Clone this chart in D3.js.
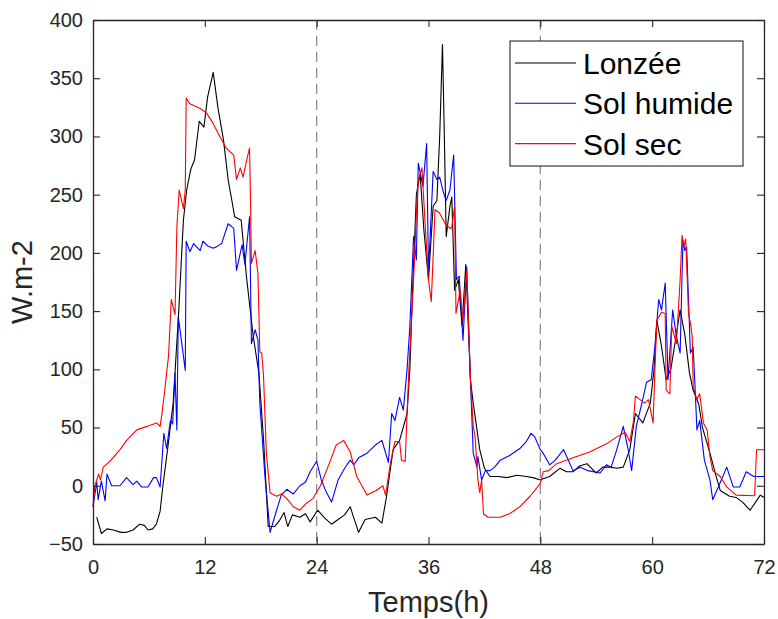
<!DOCTYPE html>
<html>
<head>
<meta charset="utf-8">
<script src="https://cdn.jsdelivr.net/npm/d3@7"></script>
<style>
    body { margin: 0; background: #fff; }
    text { font-family: "Liberation Sans", Arial, sans-serif; }
</style>
</head>
<body>
<div id="chart"></div>
<script>
// series values: [hour, W.m-2]
const lonzee = [[0.4,-27],[0.9,-41],[1.5,-37],[2.2,-38],[3.0,-40],[3.6,-40],[4.3,-38],[5.0,-33],[5.5,-34],[5.9,-38],[6.4,-37],[6.8,-33],[7.2,-22],[7.5,0],[8.0,31],[8.6,71],[9.2,150],[9.7,228],[10.05,254],[10.5,272],[10.9,280],[11.4,313],[11.9,308],[12.3,334],[12.9,355],[13.4,325],[14.0,297],[14.5,263],[14.9,245],[15.2,231],[15.9,228],[16.5,177],[17.2,128],[17.8,97],[18.3,40],[18.8,-35],[19.5,-35],[20.0,-30],[20.5,-23],[20.9,-35],[21.4,-25],[22.2,-27],[22.8,-24],[23.3,-31],[24.1,-21],[24.9,-28],[25.6,-33],[26.3,-29],[27.0,-25],[27.6,-18],[28.0,-28],[28.5,-40],[29.2,-29],[30.3,-27],[31.0,-32],[31.5,-9],[32.2,31],[32.9,39],[33.7,62],[34.0,100],[34.3,170],[34.7,250],[35.1,268],[35.5,220],[36.0,177],[36.5,240],[36.9,245],[37.2,300],[37.5,379],[37.7,300],[37.9,214],[38.3,240],[38.5,248],[38.8,168],[39.2,177],[39.6,137],[40.0,190],[40.5,91],[40.8,71],[41.5,31],[42.0,15],[42.6,8],[43.5,8],[44.4,7],[45.5,9],[46.5,8],[47.2,7],[48.0,5],[48.3,6],[49.0,8],[50.1,15],[50.8,12],[51.5,12],[52.2,17],[53.0,19],[53.6,14],[54.0,11],[54.7,16],[55.5,16],[56.2,15],[56.9,16],[57.6,31],[58.2,62],[58.6,58],[59.0,54],[59.8,71],[60.2,100],[60.5,142],[61.0,120],[61.5,91],[62.0,100],[62.5,125],[63.0,151],[63.5,130],[64.0,97],[64.4,82],[65.0,70],[65.4,50],[66.2,28],[66.8,10],[67.3,-4],[68.3,-9],[69.0,-10],[69.7,-14],[70.5,-21],[71.1,-14],[71.6,-8],[72.0,-10]];

const solHumide = [[0,-18],[0.4,3],[0.55,-12],[0.9,4],[1.3,-13],[1.5,10],[2.0,0],[2.9,0],[3.6,7],[4.3,1],[4.7,4],[5.2,-1],[5.9,-1],[6.5,7],[6.8,7],[7.2,-1],[7.6,45],[7.9,32],[8.3,56],[8.55,53],[8.8,97],[9.0,48],[9.15,145],[9.4,130],[9.9,99],[10.0,210],[10.4,201],[10.8,208],[11.5,202],[11.8,210],[12.3,206],[12.9,204],[13.4,206],[13.8,208],[14.5,225],[15.1,221],[15.4,185],[16.0,207],[16.3,190],[16.8,231],[17.0,122],[17.4,134],[17.7,125],[17.9,71],[18.45,8],[19.0,-40],[19.7,-21],[20.2,-8],[20.8,-3],[21.5,-7],[22.2,0],[22.8,3],[23.3,12],[24.0,21],[24.5,5],[25.0,-5],[25.6,-14],[26.3,5],[27.0,15],[27.6,22],[28.0,18],[28.5,24],[29.4,28],[30.3,35],[31.0,39],[31.7,20],[32.05,62],[32.4,56],[32.9,76],[33.3,65],[33.7,100],[34.0,137],[34.4,214],[34.7,194],[34.9,277],[35.4,257],[35.8,294],[36.0,183],[36.5,270],[36.9,263],[37.2,265],[37.6,252],[37.9,245],[38.3,254],[38.7,284],[39.0,177],[39.3,180],[39.7,125],[40.1,188],[40.5,91],[40.8,28],[41.2,16],[41.3,25],[41.7,5],[42.1,13],[42.6,13],[43.1,16],[43.7,22],[44.7,26],[45.8,32],[46.5,38],[47.0,45],[47.4,42],[48.0,31],[48.3,28],[49.0,18],[49.6,22],[50.5,31],[51.5,13],[52.3,16],[53.1,13],[54.4,11],[55.1,18],[55.6,16],[56.2,31],[56.9,51],[57.4,32],[57.8,13],[58.3,51],[58.9,71],[59.4,89],[59.9,91],[60.3,120],[60.7,160],[61.0,151],[61.4,174],[61.7,91],[62.2,151],[62.6,128],[63.0,114],[63.3,211],[63.5,202],[63.7,205],[64.1,114],[64.4,119],[64.6,85],[64.8,48],[65.1,56],[65.6,22],[66.2,5],[66.5,-12],[67.1,-1],[68.0,16],[68.7,-1],[69.4,-1],[70.1,12],[70.9,8],[72.0,8]];

const solSec = [[0,-18],[0.2,0],[0.6,10],[0.8,5],[1.1,16],[1.8,21],[2.9,31],[3.6,39],[4.7,48],[5.8,51],[6.8,54],[7.2,51],[7.4,62],[7.7,82],[7.9,97],[8.1,111],[8.4,160],[8.8,147],[9.0,222],[9.25,254],[9.7,238],[9.9,254],[10.0,333],[10.4,328],[11.5,324],[12.2,320],[12.9,311],[13.6,300],[14.3,290],[15.1,284],[15.4,263],[15.8,273],[16.1,265],[16.5,280],[16.8,290],[16.9,245],[17.0,191],[17.4,202],[17.7,182],[17.9,115],[18.1,114],[18.3,94],[18.6,28],[19.0,-6],[19.7,-9],[20.2,-7],[20.8,-11],[21.5,-18],[22.2,-21],[22.9,-15],[23.6,-11],[24.4,0],[25.2,16],[26.1,35],[26.9,39],[27.6,29],[28.3,8],[29.4,-8],[30.4,-4],[31.1,0],[31.4,-8],[31.9,19],[32.4,38],[32.9,38],[33.1,22],[33.5,21],[33.7,62],[33.9,100],[34.4,177],[34.7,234],[34.9,262],[35.3,273],[35.6,230],[36.0,177],[36.3,158],[36.7,237],[37.2,234],[37.8,225],[38.3,221],[38.5,222],[38.8,240],[38.95,148],[39.4,168],[39.7,142],[40.1,185],[40.5,91],[40.8,51],[41.0,42],[41.3,5],[41.5,-6],[41.7,5],[41.9,-24],[42.4,-27],[43.7,-27],[44.7,-24],[45.8,-18],[46.9,-9],[48.0,2],[48.3,12],[48.9,13],[49.75,19],[51.5,24],[53.3,29],[55.1,36],[56.2,42],[57.1,46],[57.6,38],[58.0,56],[58.2,77],[58.7,74],[59.2,71],[59.6,74],[60.1,54],[60.3,100],[60.5,142],[61.0,149],[61.4,148],[61.5,82],[61.9,79],[62.1,137],[62.6,122],[63.0,177],[63.2,215],[63.4,205],[63.6,212],[63.9,148],[64.1,140],[64.3,128],[64.4,85],[64.8,74],[65.1,79],[65.5,54],[65.9,48],[66.2,25],[66.5,13],[67.3,8],[68.0,-1],[69.0,-8],[71.0,-8.5],[71.2,31],[72.0,31]];

const seriesNames = ["Lonzée", "Sol humide", "Sol sec"];
const seriesColors = ["#000000", "#0000ff", "#ff0000"];
const xTicks = [0, 12, 24, 36, 48, 60, 72];
const yTicks = [-50, 0, 50, 100, 150, 200, 250, 300, 350, 400];
const dayMarks = [24, 48];

const margin = {top: 20, right: 14, bottom: 75, left: 93};
const width = 778 - margin.left - margin.right;
const height = 619 - margin.top - margin.bottom;
const axisColor = "#262626";

const svg = d3.select("#chart").append("svg")
    .attr("width", 778)
    .attr("height", 619)
    .append("g")
    .attr("transform", `translate(${margin.left},${margin.top})`);

const x = d3.scaleLinear().domain([0, 72]).range([0, width]);
const y = d3.scaleLinear().domain([-50, 400]).range([height, 0]);

// dashed day separators
svg.selectAll(".day")
    .data(dayMarks)
    .enter().append("line")
    .attr("class", "day")
    .attr("x1", d => x(d)).attr("x2", d => x(d))
    .attr("y1", 0).attr("y2", height)
    .attr("stroke", "#8c8c8c")
    .attr("stroke-width", 1.3)
    .attr("stroke-dasharray", "10,6");

// series
const line = d3.line().x(d => x(d[0])).y(d => y(d[1]));
[lonzee, solHumide, solSec].forEach((s, i) => {
    svg.append("path")
        .datum(s)
        .attr("fill", "none")
        .attr("stroke", seriesColors[i])
        .attr("stroke-width", 1.1)
        .attr("stroke-linejoin", "round")
        .attr("d", line);
});

// axes (box with inward ticks)
function styleAxis(g) {
    g.attr("font-family", null).attr("font-size", null);
    g.select(".domain").attr("stroke", axisColor).attr("stroke-width", 1.3);
    g.selectAll(".tick line").attr("stroke", axisColor).attr("stroke-width", 1.1);
    g.selectAll(".tick text").attr("fill", axisColor).style("font-size", "20px");
}

svg.append("g")
    .attr("transform", `translate(0,${height})`)
    .call(d3.axisBottom(x).tickValues(xTicks).tickSizeInner(-7).tickSizeOuter(0).tickPadding(16))
    .call(styleAxis);

svg.append("g")
    .call(d3.axisTop(x).tickValues(xTicks).tickSizeInner(-7).tickSizeOuter(0).tickFormat(""))
    .call(styleAxis);

svg.append("g")
    .call(d3.axisLeft(y).tickValues(yTicks).tickSizeInner(-7).tickSizeOuter(0).tickPadding(10))
    .call(styleAxis);

svg.append("g")
    .attr("transform", `translate(${width},0)`)
    .call(d3.axisRight(y).tickValues(yTicks).tickSizeInner(-7).tickSizeOuter(0).tickFormat(""))
    .call(styleAxis);

// axis titles
svg.append("text")
    .attr("x", width / 2)
    .attr("y", height + 68)
    .attr("text-anchor", "middle")
    .attr("fill", axisColor)
    .style("font-size", "29px")
    .text("Temps(h)");

svg.append("text")
    .attr("transform", `translate(${-61},${height / 2}) rotate(-90)`)
    .attr("text-anchor", "middle")
    .attr("fill", axisColor)
    .style("font-size", "29px")
    .text("W.m-2");

// legend
const legend = svg.append("g")
    .attr("transform", `translate(${510 - margin.left},${41 - margin.top})`);

legend.append("rect")
    .attr("width", 233)
    .attr("height", 125)
    .attr("fill", "#fff")
    .attr("stroke", axisColor)
    .attr("stroke-width", 1.1);

seriesNames.forEach((name, i) => {
    const ly = 22 + i * 40.3;
    legend.append("line")
        .attr("x1", 5).attr("x2", 66)
        .attr("y1", ly).attr("y2", ly)
        .attr("stroke", seriesColors[i])
        .attr("stroke-width", 1.1);
    legend.append("text")
        .attr("x", 73)
        .attr("y", ly + 11)
        .attr("fill", "#000")
        .style("font-size", "30px")
        .text(name);
});
</script>
</body>
</html>
